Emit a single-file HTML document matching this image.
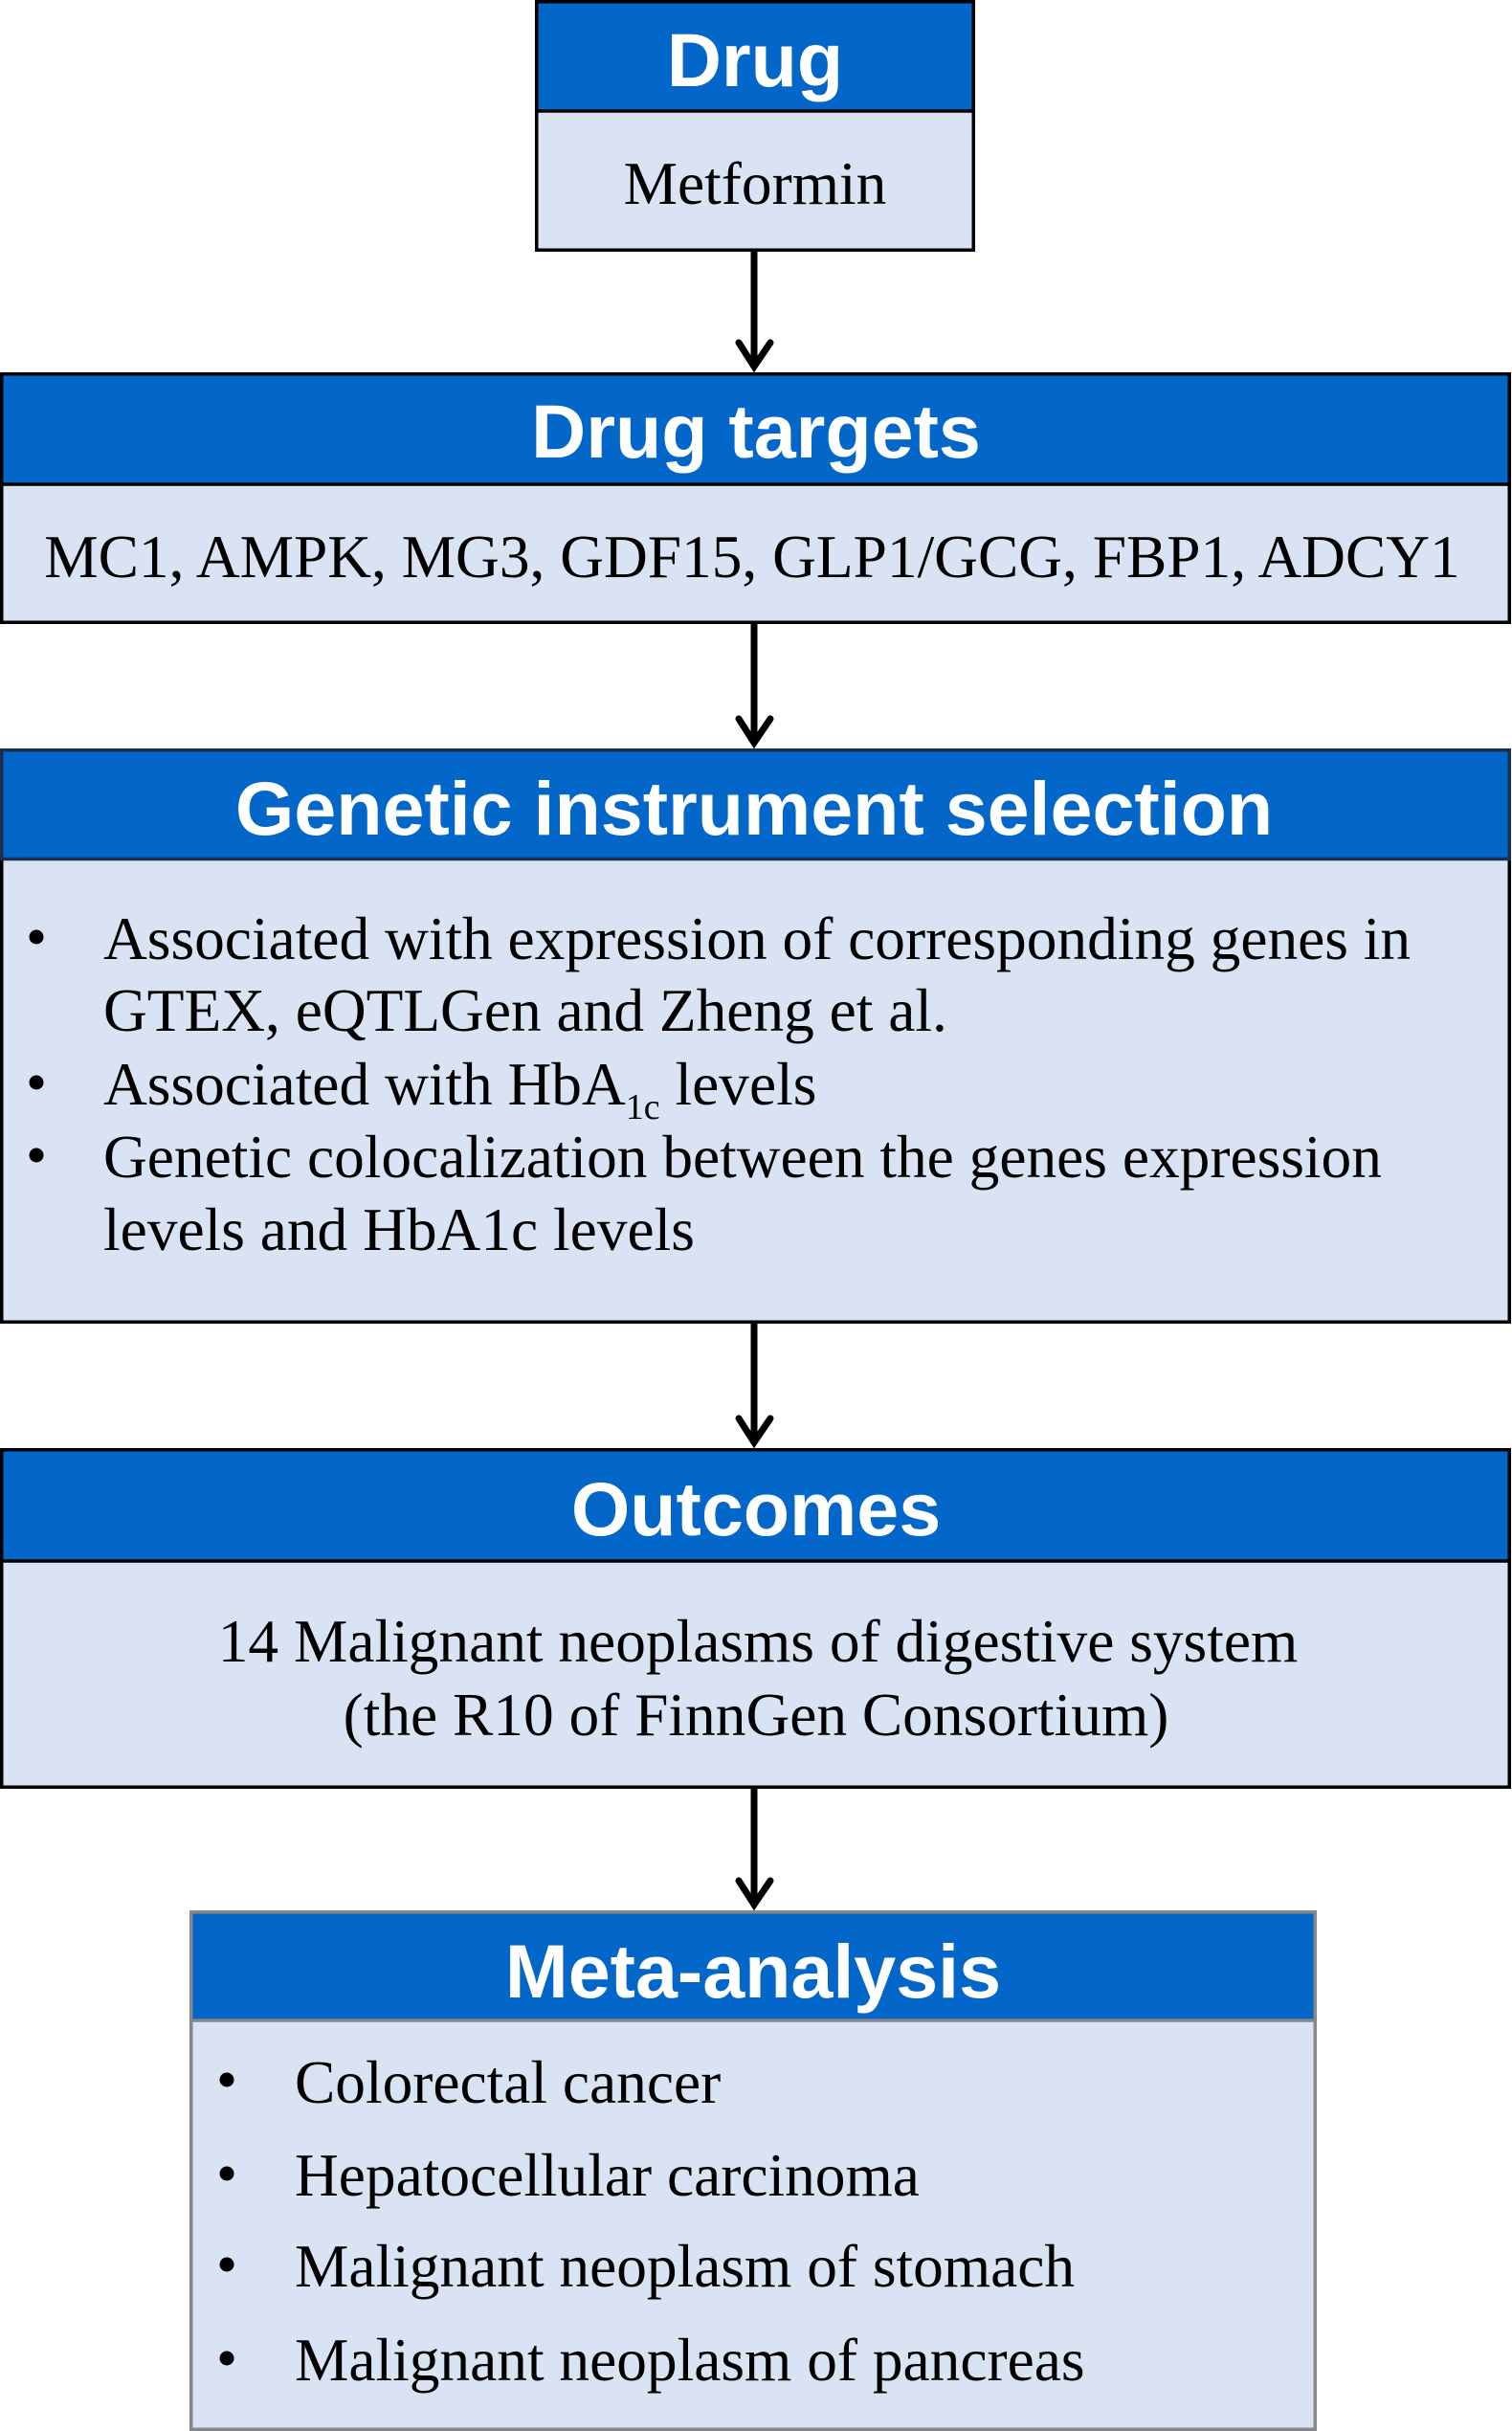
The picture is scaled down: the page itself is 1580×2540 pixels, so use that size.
<!DOCTYPE html>
<html>
<head>
<meta charset="utf-8">
<style>
html,body{margin:0;padding:0;background:#fff;}
svg{display:block;}
.hd{font-family:"Liberation Sans",Arial,sans-serif;font-weight:bold;font-size:79px;fill:#fff;}
.tx{font-family:"Liberation Serif","Times New Roman",serif;font-size:63.4px;fill:#000;}
</style>
</head>
<body>
<svg width="1580" height="2540" viewBox="0 0 1580 2540" xmlns="http://www.w3.org/2000/svg">
  <!-- Drug box -->
  <rect x="560.75" y="1.75" width="456.5" height="114.25" fill="#0366C9"/>
  <rect x="560.75" y="116" width="456.5" height="145.25" fill="#DAE3F3"/>
  <rect x="560.75" y="1.75" width="456.5" height="259.5" fill="none" stroke="#000" stroke-width="3.5"/>
  <line x1="559" y1="116" x2="1019" y2="116" stroke="#000" stroke-width="3.5"/>
  <text class="hd" x="789" y="90" text-anchor="middle">Drug</text>
  <text class="tx" x="789" y="213" text-anchor="middle">Metformin</text>

  <!-- Drug targets -->
  <rect x="1.75" y="390.75" width="1575.5" height="115.25" fill="#0366C9"/>
  <rect x="1.75" y="506" width="1575.5" height="144.25" fill="#DAE3F3"/>
  <rect x="1.75" y="390.75" width="1575.5" height="259.5" fill="none" stroke="#000" stroke-width="3.5"/>
  <line x1="0" y1="506" x2="1579" y2="506" stroke="#000" stroke-width="3.5"/>
  <text class="hd" x="790" y="478" text-anchor="middle">Drug targets</text>
  <text class="tx" x="786" y="603" text-anchor="middle">MC1, AMPK, MG3, GDF15, GLP1/GCG, FBP1, ADCY1</text>

  <!-- Genetic instrument selection -->
  <rect x="1.75" y="783.75" width="1575.5" height="113.75" fill="#0366C9"/>
  <rect x="1.75" y="897.5" width="1575.5" height="483.75" fill="#DAE3F3"/>
  <rect x="1.75" y="783.75" width="1575.5" height="597.5" fill="none" stroke="#000" stroke-width="3.5"/>
  <path d="M1.75,897.5 L1.75,783.75 L1577.25,783.75 L1577.25,897.5" fill="none" stroke="#1c2e50" stroke-width="3.5"/>
  <line x1="0" y1="897.5" x2="1579" y2="897.5" stroke="#1c2e50" stroke-width="3.5"/>
  <text class="hd" x="788" y="872" text-anchor="middle">Genetic instrument selection</text>
  <circle cx="38" cy="979" r="7.5" fill="#000"/>
  <circle cx="38" cy="1131" r="7.5" fill="#000"/>
  <circle cx="38" cy="1207" r="7.5" fill="#000"/>
  <text class="tx" x="108" y="1002">Associated with expression of corresponding genes in</text>
  <text class="tx" x="108" y="1077">GTEX, eQTLGen and Zheng et al.</text>
  <text class="tx" x="108" y="1154">Associated with HbA<tspan font-size="38" dy="15">1c</tspan><tspan dy="-15"> levels</tspan></text>
  <text class="tx" x="108" y="1230">Genetic colocalization between the genes expression</text>
  <text class="tx" x="108" y="1306">levels and HbA1c levels</text>

  <!-- Outcomes -->
  <rect x="1.75" y="1514.75" width="1575.5" height="116.25" fill="#0366C9"/>
  <rect x="1.75" y="1631" width="1575.5" height="236.25" fill="#DAE3F3"/>
  <rect x="1.75" y="1514.75" width="1575.5" height="352.5" fill="none" stroke="#000" stroke-width="3.5"/>
  <line x1="0" y1="1631" x2="1579" y2="1631" stroke="#000" stroke-width="3.5"/>
  <text class="hd" x="790" y="1604" text-anchor="middle">Outcomes</text>
  <text class="tx" x="792" y="1736" text-anchor="middle">14 Malignant neoplasms of digestive system</text>
  <text class="tx" x="790" y="1813" text-anchor="middle">(the R10 of FinnGen Consortium)</text>

  <!-- Meta-analysis -->
  <rect x="199.75" y="1997.75" width="1174.5" height="113.25" fill="#0366C9"/>
  <rect x="199.75" y="2111" width="1174.5" height="427.25" fill="#DAE3F3"/>
  <rect x="199.75" y="1997.75" width="1174.5" height="540.5" fill="none" stroke="#878787" stroke-width="3.5"/>
  <line x1="198" y1="2111" x2="1376" y2="2111" stroke="#878787" stroke-width="3.5"/>
  <text class="hd" x="787" y="2087" text-anchor="middle">Meta-analysis</text>
  <circle cx="237" cy="2173" r="7.5" fill="#000"/>
  <circle cx="237" cy="2271" r="7.5" fill="#000"/>
  <circle cx="237" cy="2366" r="7.5" fill="#000"/>
  <circle cx="237" cy="2464" r="7.5" fill="#000"/>
  <text class="tx" x="308" y="2197">Colorectal cancer</text>
  <text class="tx" x="308" y="2294">Hepatocellular carcinoma</text>
  <text class="tx" x="308" y="2389">Malignant neoplasm of stomach</text>
  <text class="tx" x="308" y="2487">Malignant neoplasm of pancreas</text>

  <!-- Arrows -->
  <g stroke="#000" stroke-width="7" fill="none" stroke-linecap="round" stroke-linejoin="miter">
    <line x1="788" y1="263" x2="788" y2="383" stroke-linecap="butt"/>
    <polyline points="772,358 788,383 805,358"/>
    <line x1="788" y1="652" x2="788" y2="776" stroke-linecap="butt"/>
    <polyline points="772,751 788,776 805,751"/>
    <line x1="788" y1="1383" x2="788" y2="1507" stroke-linecap="butt"/>
    <polyline points="772,1482 788,1507 805,1482"/>
    <line x1="788" y1="1869" x2="788" y2="1990" stroke-linecap="butt"/>
    <polyline points="772,1965 788,1990 805,1965"/>
  </g>
</svg>
</body>
</html>
